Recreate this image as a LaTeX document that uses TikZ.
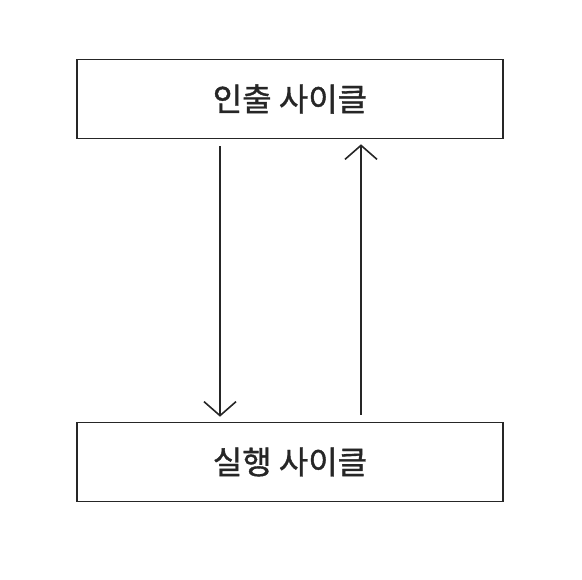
\documentclass[tikz,border=0pt]{standalone}
\usepackage{fontspec}
\newfontfamily\kor[FakeBold=1.2]{Noto Sans CJK KR}
\usetikzlibrary{arrows.meta}
\begin{document}
\begin{tikzpicture}[x=1pt,y=1pt,line width=1.6pt,draw=black!85]
  \tikzstyle{stage}=[draw,rectangle,minimum width=426pt,minimum height=79pt,inner sep=0pt,font=\kor\fontsize{32}{36}\selectfont,text=black!85]
  \tikzstyle{flow}=[-{Straight Barb[length=14pt,width=32pt]},shorten <=7pt,shorten >=5pt]
  \useasboundingbox (0,0) rectangle (582,580);
  \node[stage] (fetch) at (290,481) {인출 사이클};
  \node[stage] (exec) at (290,118) {실행 사이클};

  \draw[flow] ([xshift=-70pt]fetch.south) -- ([xshift=-70pt]exec.north);
  \draw[flow] ([xshift=71pt]exec.north) -- ([xshift=71pt]fetch.south);
\end{tikzpicture}
\end{document}
